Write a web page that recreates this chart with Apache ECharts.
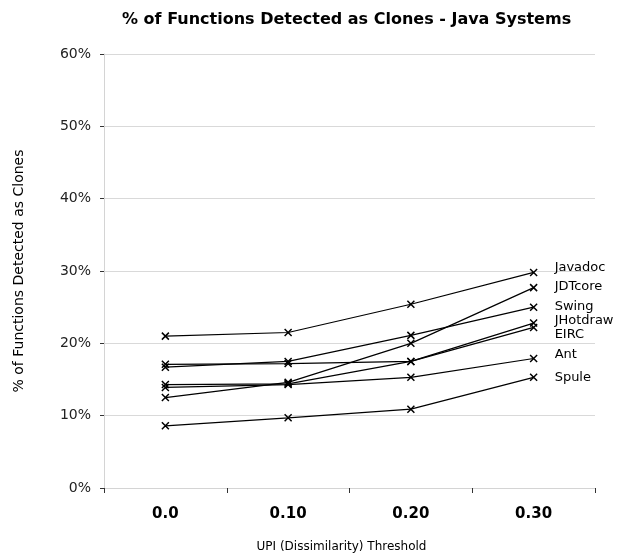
<!DOCTYPE html>
<html>
<head>
<meta charset="utf-8">
<script src="https://cdn.jsdelivr.net/npm/echarts@6/dist/echarts.min.js"></script>
<style>
html,body{margin:0;padding:0;background:#fff;}
#chart{width:632px;height:558px;}
</style>
</head>
<body>
<div id="chart"></div>
<script>
var categories = ['0.0', '0.10', '0.20', '0.30'];
var seriesNames = ['Javadoc', 'JDTcore', 'Swing', 'JHotdraw', 'EIRC', 'Ant', 'Spule'];
var javadoc  = [21.0, 21.5, 25.4, 29.8];
var jdtcore  = [12.5, 14.6, 20.0, 27.7];
var swing    = [16.7, 17.5, 21.1, 25.0];
var jhotdraw = [17.1, 17.2, 17.5, 22.8];
var eirc     = [14.3, 14.4, 17.5, 22.2];
var ant      = [13.9, 14.3, 15.3, 17.9];
var spule    = [8.6, 9.7, 10.9, 15.3];
var yTicks = [0, 10, 20, 30, 40, 50, 60];

var values = [javadoc, jdtcore, swing, jhotdraw, eirc, ant, spule];
var labelDy = [-5, -1.5, -1, -2, 7, -3.5, 0];

var font = 'DejaVu Sans';
var chart = echarts.init(document.getElementById('chart'));
var series = seriesNames.map(function (name, i) {
  return {
    name: name,
    type: 'line',
    data: values[i],
    symbol: 'path://M0,0L10,10M10,0L0,10',
    symbolSize: 7,
    showSymbol: true,
    lineStyle: { color: '#000', width: 1.2 },
    itemStyle: { color: '#000', borderColor: '#000', borderWidth: 1.5 },
    emphasis: { disabled: true },
    animation: false,
    endLabel: {
      show: true,
      formatter: name,
      color: '#000',
      fontFamily: font,
      fontSize: 13,
      distance: 21,
      offset: [0, labelDy[i]]
    }
  };
});

chart.setOption({
  animation: false,
  title: {
    text: '% of Functions Detected as Clones - Java Systems',
    left: 117,
    top: 7,
    textStyle: { fontFamily: font, fontWeight: 'bold', fontSize: 16, color: '#000' }
  },
  grid: { left: 104, right: 37, top: 54, bottom: 69, containLabel: false },
  xAxis: {
    type: 'category',
    data: categories,
    boundaryGap: true,
    name: 'UPI (Dissimilarity) Threshold',
    nameLocation: 'middle',
    nameGap: 53,
    nameTextStyle: { fontFamily: font, fontSize: 12, color: '#000', padding: [0, 16, 0, 0] },
    axisLine: { show: true, lineStyle: { color: '#d4d4d4', width: 1 } },
    axisTick: { show: true, length: 5, lineStyle: { color: '#333', width: 1 } },
    axisLabel: { fontFamily: font, fontWeight: 'bold', fontSize: 15, color: '#000', margin: 19 },
    splitLine: { show: false }
  },
  yAxis: {
    type: 'value',
    min: yTicks[0],
    max: yTicks[yTicks.length - 1],
    interval: 10,
    name: '% of Functions Detected as Clones',
    nameLocation: 'middle',
    nameGap: 78,
    nameRotate: 90,
    nameTextStyle: { fontFamily: font, fontSize: 14, color: '#000' },
    axisLine: { show: true, lineStyle: { color: '#d4d4d4', width: 1 } },
    axisTick: { show: true, length: 4, lineStyle: { color: '#333', width: 1 } },
    axisLabel: { fontFamily: font, fontSize: 14, color: '#222', margin: 13, formatter: '{value}%' },
    splitLine: { show: true, lineStyle: { color: '#d9d9d9', width: 1 } }
  },
  series: series
});
</script>
</body>
</html>
